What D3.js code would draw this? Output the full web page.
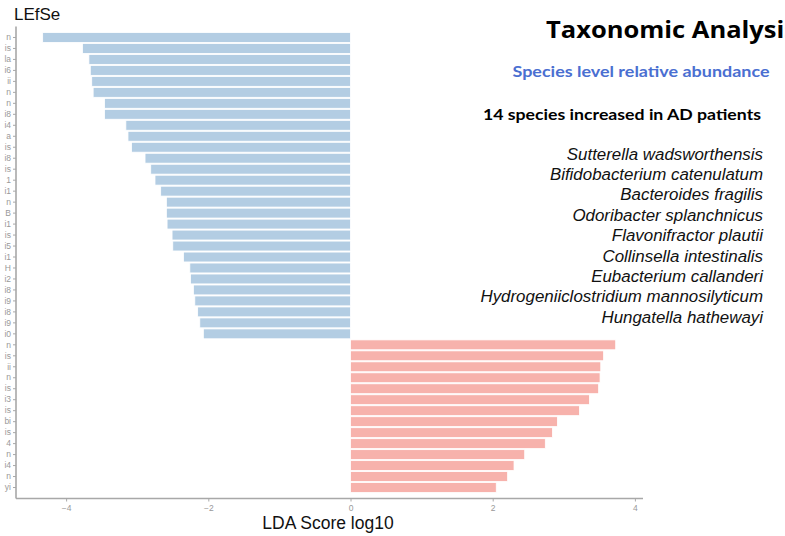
<!DOCTYPE html>
<html><head><meta charset="utf-8">
<script src="https://cdn.jsdelivr.net/npm/d3@7"></script>
<style>body{margin:0;background:#fff;overflow:hidden}svg{display:block}</style>
</head><body>
<script>
const labels = ["n","is","la","i6","ii","n","n","i8","i4","a","is","i8","is","1","i1","n","B","i1","is","i5","i1","H","i2","i8","i9","i8","i9","i0",
  "n","is","ii","n","is","i3","is","bi","is","4","n","i4","n","yi"];
const ldaValues = [-4.33,-3.77,-3.68,-3.66,-3.64,-3.62,-3.46,-3.46,-3.16,-3.13,-3.08,-2.89,-2.81,-2.75,-2.67,-2.59,-2.59,-2.58,-2.51,-2.50,-2.35,-2.26,-2.25,-2.21,-2.19,-2.15,-2.12,-2.07,
  3.73,3.56,3.52,3.51,3.49,3.36,3.22,2.91,2.84,2.74,2.45,2.30,2.21,2.05];
const groups = ldaValues.map(v => v < 0 ? "control" : "AD");
const xTicks = [-4,-2,0,2,4];
const speciesList = ["Sutterella wadsworthensis","Bifidobacterium catenulatum","Bacteroides fragilis","Odoribacter splanchnicus","Flavonifractor plautii","Collinsella intestinalis","Eubacterium callanderi","Hydrogeniiclostridium mannosilyticum","Hungatella hathewayi"];

const W = 785, H = 536;
const svg = d3.select("body").append("svg").attr("width", W).attr("height", H);
const x = d3.scaleLinear().domain([-4.705, 4.114]).range([16, 643]);
const y = d3.scaleBand().domain(d3.range(labels.length)).range([26.5, 498.5]).paddingInner(0.1).paddingOuter(0.55);
const color = d3.scaleOrdinal().domain(["control","AD"]).range(["#b3cde3","#f7b2ac"]);

svg.append("g").selectAll("rect").data(ldaValues).join("rect")
  .attr("x", d => x(Math.min(0, d)))
  .attr("width", d => Math.abs(x(d) - x(0)))
  .attr("y", (d, i) => y(i))
  .attr("height", y.bandwidth())
  .attr("fill", (d, i) => color(groups[i]))
  .attr("stroke", "#ffffff").attr("stroke-width", 0.8);

const yAxis = svg.append("g").attr("transform", "translate(16,0)")
  .call(d3.axisLeft(y).tickFormat(i => labels[i]).tickSize(3).tickPadding(2));
const xAxis = svg.append("g").attr("transform", "translate(0,498.5)")
  .call(d3.axisBottom(x).tickValues(xTicks).tickFormat(d3.format("d")).tickSize(3).tickPadding(3));
[yAxis, xAxis].forEach(g => {
  g.select(".domain").attr("stroke", "#a8a8a8").attr("stroke-width", 1.6);
  g.selectAll(".tick line").attr("stroke", "#a8a8a8");
  g.selectAll("text").attr("fill", "#999").style("font-family", "Liberation Sans, Arial, sans-serif").style("font-size", "8.5px");
});
xAxis.select(".domain").attr("d", "M16,0H643");
yAxis.select(".domain").attr("d", "M0,26.5V498.5");

svg.append("text").attr("x", 14).attr("y", 20).text("LEfSe")
  .style("font-family", "Liberation Sans, Arial, sans-serif").style("font-size", "17px").attr("fill", "#111");
svg.append("text").attr("x", 328).attr("y", 529).attr("text-anchor", "middle").text("LDA Score log10")
  .style("font-family", "Liberation Sans, Arial, sans-serif").style("font-size", "17.5px").attr("fill", "#111");

svg.append("text").attr("x", 546).attr("y", 38).text("Taxonomic Analysis")
  .attr("textLength", 251).attr("lengthAdjust", "spacingAndGlyphs")
  .style("font-family", "Open Sans, sans-serif").style("font-weight", "bold").style("font-size", "24px").attr("fill", "#000");
svg.append("text").attr("x", 641).attr("y", 77).attr("text-anchor", "middle").text("Species level relative abundance")
  .attr("textLength", 257).attr("lengthAdjust", "spacingAndGlyphs")
  .style("font-family", "Lato, sans-serif").style("font-weight", "bold").style("font-size", "16px").attr("fill", "#4a6fd1");
svg.append("text").attr("x", 483).attr("y", 120).text("14 species increased in AD patients")
  .attr("textLength", 278).attr("lengthAdjust", "spacingAndGlyphs")
  .style("font-family", "Lato, sans-serif").style("font-weight", "bold").style("font-size", "16px").attr("fill", "#000");

svg.append("g").selectAll("text").data(speciesList).join("text")
  .attr("x", 763).attr("y", (d, i) => 159.5 + i * 20.4).attr("text-anchor", "end").text(d => d)
  .style("font-family", "Liberation Sans, Arial, sans-serif").style("font-style", "italic").style("font-size", "16.9px").attr("fill", "#111");
</script>
</body></html>
